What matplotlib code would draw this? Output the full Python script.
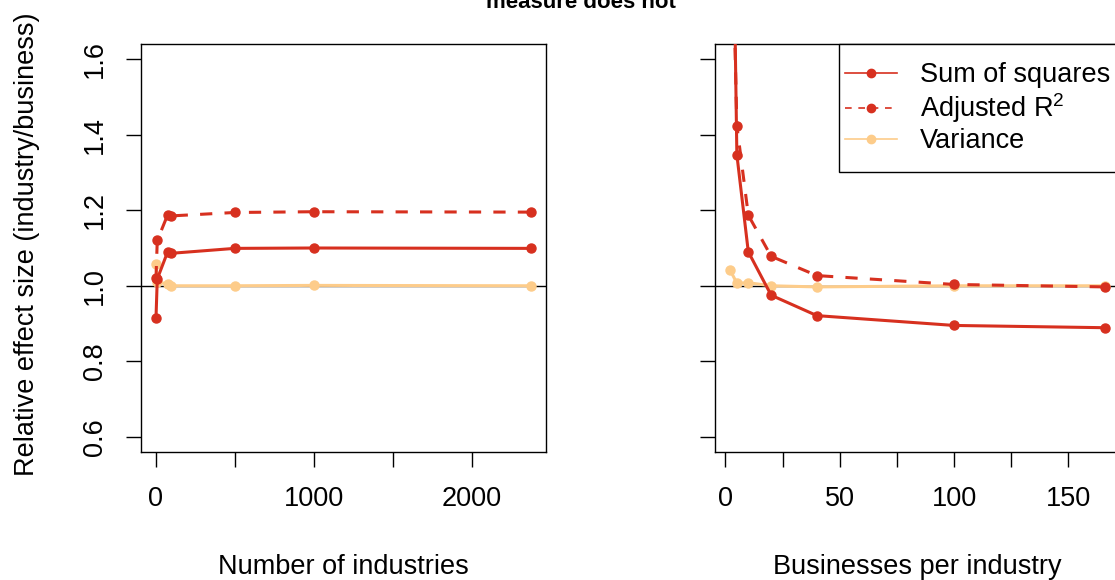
import matplotlib
matplotlib.use('Agg')
import matplotlib.pyplot as plt
from matplotlib.lines import Line2D
from matplotlib.patches import Rectangle

plt.rcParams['font.family'] = ['Liberation Sans', 'DejaVu Sans']
plt.rcParams['mathtext.fontset'] = 'custom'
plt.rcParams['mathtext.rm'] = 'Liberation Sans'
plt.rcParams['mathtext.it'] = 'Liberation Sans:italic'
plt.rcParams['mathtext.default'] = 'regular'

RED = '#D7301F'
PALE = '#FDCC8A'

# left panel: varying the number of industries
n_industries = [2, 10, 75, 100, 500, 1000, 2376]
ind_sumsq = [0.915, 1.018, 1.089, 1.086, 1.099, 1.100, 1.099]
ind_adjr2 = [1.020, 1.120, 1.187, 1.185, 1.194, 1.196, 1.195]
ind_var = [1.058, 1.010, 1.005, 1.000, 1.000, 1.001, 1.000]

# right panel: varying businesses per industry
per_industry = [2, 5, 10, 20, 40, 100, 166]
per_sumsq = [2.60, 1.347, 1.090, 0.975, 0.921, 0.895, 0.889]
per_adjr2 = [2.20, 1.424, 1.187, 1.078, 1.027, 1.0035, 0.997]
per_var = [1.042, 1.007, 1.008, 1.000, 0.997, 1.000, 1.000]

series_labels = ['Sum of squares', 'Adjusted R$^2$', 'Variance']
yticks = [0.6, 0.8, 1.0, 1.2, 1.4, 1.6]

FS = 19.5
W, H = 1115, 580


def draw_panel(ax, x, sumsq, adjr2, var, xticks, xticklabels, xlabel):
    ax.axhline(1, color='black', lw=1.0, zorder=1)
    ax.plot(x, var, color=PALE, lw=2.2, marker='o', ms=6.5, zorder=2)
    ax.plot(x, adjr2, color=RED, lw=2.2, ls=(0, (4, 4)), marker='o', ms=6.5, zorder=3)
    ax.plot(x, sumsq, color=RED, lw=2.2, marker='o', ms=6.5, zorder=4)

    # R-style 4% padding around the data range
    span = max(x) - min(x)
    ax.set_xlim(min(x) - 0.04 * span, max(x) + 0.04 * span)
    ax.set_ylim(0.56, 1.64)

    ax.set_xticks(xticks)
    ax.set_xticklabels(xticklabels, fontsize=FS)
    ax.set_yticks(yticks)
    ax.tick_params(direction='out', length=10.8, width=1.0, color='black')
    ax.tick_params(axis='x', pad=13.5)
    ax.tick_params(axis='y', pad=13)
    for s in ax.spines.values():
        s.set_linewidth(1.0)
        s.set_color('black')

    ax.set_xlabel(xlabel, fontsize=FS)
    ax.xaxis.set_label_coords(0.5, -0.25)


fig = plt.figure(figsize=(W / 100, H / 100), dpi=100)
ax1 = fig.add_axes([141 / W, 128 / H, 405 / W, 408 / H])
ax2 = fig.add_axes([715 / W, 128 / H, 405 / W, 408 / H])

draw_panel(ax1, n_industries, ind_sumsq, ind_adjr2, ind_var,
           [0, 500, 1000, 1500, 2000], ['0', '', '1000', '', '2000'],
           'Number of industries')
ax1.set_yticklabels([f'{v:.1f}' for v in yticks], fontsize=FS,
                    rotation=90, va='center')
ax1.set_ylabel('Relative effect size (industry/business)', fontsize=FS)
ax1.yaxis.set_label_coords(-0.25, 0.508)

draw_panel(ax2, per_industry, per_sumsq, per_adjr2, per_var,
           [0, 25, 50, 75, 100, 125, 150], ['0', '', '50', '', '100', '', '150'],
           'Businesses per industry')
ax2.set_yticklabels([])

# legend box drawn separately so its padding can be set freely
ax2.add_patch(Rectangle((124 / 405, 1 - 128 / 408), 1.0, 128 / 408,
                        transform=ax2.transAxes, facecolor='white',
                        edgecolor='black', lw=1.0, zorder=5, clip_on=False))
handles = [
    Line2D([], [], color=RED, lw=1.2, marker='o', ms=6),
    Line2D([], [], color=RED, lw=1.2, ls=(0, (4, 4)), marker='o', ms=6),
    Line2D([], [], color=PALE, lw=1.2, marker='o', ms=6),
]
leg = ax2.legend(handles, series_labels, loc='upper left',
                 bbox_to_anchor=(130 / 405, 1 - 18 / 408),
                 borderaxespad=0, borderpad=0, frameon=False,
                 fontsize=FS, handlelength=1.92, handletextpad=0.85,
                 labelspacing=0.12)
leg.set_zorder(6)

fig.text(581 / W, 1 - 8 / H, 'measure does not', ha='center', va='baseline',
         fontsize=16, fontweight='bold')

fig.savefig('out.png', dpi=100)
